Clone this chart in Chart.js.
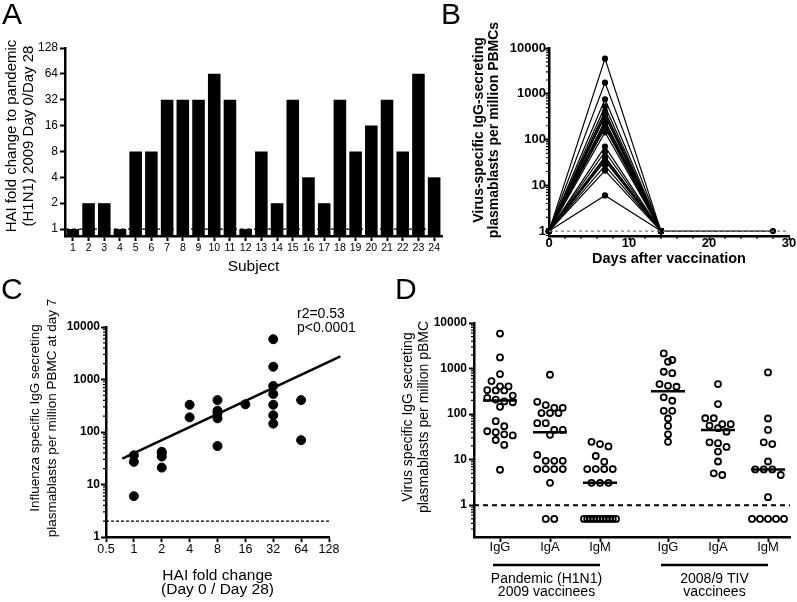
<!DOCTYPE html>
<html>
<head>
<meta charset="utf-8">
<script src="https://cdn.jsdelivr.net/npm/chart.js@4.4.0/dist/chart.umd.min.js"></script>
<style>
  html, body { margin: 0; padding: 0; background: #fff; overflow: hidden; }
  body { width: 797px; height: 602px; position: relative; font-family: "Liberation Sans", Arial, sans-serif; color: #000; }
  canvas { position: absolute; }
  .letter { position: absolute; font-size: 30px; line-height: 30px; }
  .note { position: absolute; font-size: 14px; line-height: 14px; white-space: nowrap; }
</style>
</head>
<body>
<canvas id="chartA" width="460" height="290" style="left:0;top:0"></canvas>
<canvas id="chartB" width="397" height="290" style="left:400px;top:0"></canvas>
<canvas id="chartC" width="400" height="312" style="left:0;top:290px"></canvas>
<canvas id="chartD" width="397" height="312" style="left:400px;top:290px"></canvas>
<div class="letter" style="left:2px;top:-1px">A</div>
<div class="letter" style="left:441px;top:-1px">B</div>
<div class="letter" style="left:1px;top:274px">C</div>
<div class="letter" style="left:395px;top:274px">D</div>
<div class="note" style="left:297px;top:306px">r2=0.53</div>
<div class="note" style="left:297px;top:320px">p&lt;0.0001</div>
<script>
// ---- data ----
const subjects = ['1','2','3','4','5','6','7','8','9','10','11','12','13','14','15','16','17','18','19','20','21','22','23','24'];
const haiFold = [1, 2, 2, 1, 8, 8, 32, 32, 32, 64, 32, 1, 8, 2, 32, 4, 2, 32, 8, 16, 32, 8, 64, 4];
// day 7 IgG ASC per million PBMC, same subject order
const day7Asc = [36, 42, 40, 27, 405, 255, 5850, 1750, 755, 405, 530, 6, 228, 34, 330, 330, 21, 208, 182, 337, 144, 54, 70, 190];
const days = [0, 7, 14, 28];
const baselineAsc = 1;

const haiTicks = [1, 2, 4, 8, 16, 32, 64, 128];
const dayTicks = [0, 10, 20, 30];
const decadeTicks = [1, 10, 100, 1000, 10000];
const foldTicks = [0.5, 1, 2, 4, 8, 16, 32, 64, 128];

const fitX = [0.75, 170];
const fitY = [31, 2750];

const isotypes = ['IgG', 'IgA', 'IgM'];
const groupNames = [['Pandemic (H1N1)', '2009 vaccinees'], ['2008/9 TIV', 'vaccinees']];
const igmPandemic = [24.6, 21.9, 19.5, 12, 9, 6.2, 6.2, 6.2, 6.2, 3.1, 3.1, 3.1, 0.5, 0.5, 0.5, 0.5, 0.5, 0.5, 0.5, 0.5, 0.5, 0.5, 0.5];
const igaPandemic = [730, 186, 158, 137, 137, 105, 105, 105, 63, 63, 45, 45, 35, 12.7, 9.4, 9.4, 9.4, 6.2, 6.2, 6.2, 6.2, 3.1, 0.5, 0.5];
const iggTiv = [2150, 1540, 1410, 850, 790, 457, 418, 398, 233, 196, 118, 118, 80, 55, 36, 24.6];
const igaTiv = [457, 166, 81, 81, 60, 60, 56, 49, 41, 24, 23, 19, 15, 9.1, 5.0, 4.6];
const igmTiv = [820, 80, 45, 24, 22, 9.1, 6.1, 6.1, 6.1, 4.6, 1.5, 0.5, 0.5, 0.5, 0.5, 0.5];
const dotGroups = [day7Asc, igaPandemic, igmPandemic, iggTiv, igaTiv, igmTiv];

// ---- helpers ----
const FONT = '"Liberation Sans", Arial, sans-serif';
Chart.defaults.font.family = FONT;
Chart.defaults.color = '#000';
Chart.defaults.animation = false;
Chart.defaults.plugins.legend.display = false;
Chart.defaults.plugins.tooltip.enabled = false;

const fixWidth = w => s => { s.width = w; };
const fixHeight = h => s => { s.height = h; };
const setTicks = vals => s => { s.ticks = vals.map(v => ({value: v})); };

function frame(len) {
  return {
    border: {color: '#000', width: 2.5},
    grid: {drawOnChartArea: false, drawTicks: true, tickLength: len, tickColor: '#000', tickWidth: 2, offset: false}
  };
}

function logMinors(min, max) {
  const out = [];
  for (let e = Math.floor(Math.log10(min)); e <= Math.ceil(Math.log10(max)); e++) {
    for (let m = 2; m <= 9; m++) {
      const v = m * Math.pow(10, e);
      if (v > min && v < max) out.push(v);
    }
  }
  return out;
}

function minorTicks(axis, values, len) {
  return {
    id: 'minor' + axis,
    afterDraw(chart) {
      const s = chart.scales[axis], a = chart.chartArea, ctx = chart.ctx;
      ctx.save();
      ctx.strokeStyle = '#000';
      ctx.lineWidth = 1.2;
      ctx.beginPath();
      values.forEach(v => {
        const p = s.getPixelForValue(v);
        if (s.isHorizontal()) { ctx.moveTo(p, a.bottom); ctx.lineTo(p, a.bottom + len); }
        else { ctx.moveTo(a.left - len, p); ctx.lineTo(a.left, p); }
      });
      ctx.stroke();
      ctx.restore();
    }
  };
}

function refLine(value, color, width, dash) {
  return {
    id: 'refLine',
    afterDatasetsDraw(chart) {
      const y = chart.scales.y.getPixelForValue(value), a = chart.chartArea, ctx = chart.ctx;
      ctx.save();
      ctx.strokeStyle = color;
      ctx.lineWidth = width;
      ctx.setLineDash(dash);
      ctx.beginPath();
      ctx.moveTo(a.left, y);
      ctx.lineTo(a.right, y);
      ctx.stroke();
      ctx.restore();
    }
  };
}

// rotated y-axis title, GraphPad puts it a little above the axis centre
function sideTitle(lines, font, cx, cy, gap) {
  return {
    id: 'sideTitle',
    afterDraw(chart) {
      const ctx = chart.ctx;
      ctx.save();
      ctx.translate(cx, cy);
      ctx.rotate(-Math.PI / 2);
      ctx.font = font;
      ctx.fillStyle = '#000';
      ctx.textAlign = 'center';
      ctx.textBaseline = 'middle';
      lines.forEach((t, i) => ctx.fillText(t, 0, i * gap));
      ctx.restore();
    }
  };
}

// ---- A: HAI fold change bars ----
new Chart(document.getElementById('chartA'), {
  type: 'bar',
  data: {
    labels: subjects,
    datasets: [{data: haiFold, backgroundColor: '#000', barPercentage: 0.8, categoryPercentage: 1}]
  },
  options: {
    responsive: false,
    layout: {padding: {left: 0, top: 48, right: 18, bottom: 0}},
    scales: {
      x: {
        ...frame(5),
        ticks: {font: {size: 10.5}, padding: 1, autoSkip: false, maxRotation: 0},
        title: {display: true, text: 'Subject', font: {size: 15.5}, padding: {top: 0, bottom: 14}},
        afterFit: fixHeight(54)
      },
      y: {
        type: 'logarithmic', min: 0.83, max: 128,
        ...frame(5),
        ticks: {font: {size: 12}, padding: 2, callback: v => v},
        afterBuildTicks: setTicks(haiTicks),
        afterFit: fixWidth(65)
      }
    }
  },
  plugins: [
    refLine(1, '#000', 1.2, [4, 3]),
    sideTitle(['HAI fold change to pandemic', '(H1N1) 2009 Day 0/Day 28'], '15px ' + FONT, 12, 136, 17)
  ]
});

// ---- B: kinetics ----
const kinetics = day7Asc.map(v => ({
  data: [{x: days[0], y: baselineAsc}, {x: days[1], y: v}, {x: days[2], y: baselineAsc}],
  showLine: true, borderColor: '#000', borderWidth: 1.2,
  pointRadius: 2.5, pointBackgroundColor: '#000', pointBorderColor: '#000', clip: false
}));
kinetics.push({
  data: [{x: days[2], y: baselineAsc}, {x: days[3], y: baselineAsc}],
  showLine: true, borderColor: '#000', borderWidth: 1.2,
  pointRadius: 2.5, pointBackgroundColor: '#000', pointBorderColor: '#000', clip: false
});

new Chart(document.getElementById('chartB'), {
  type: 'scatter',
  data: {datasets: kinetics},
  options: {
    responsive: false,
    layout: {padding: {left: 0, top: 48, right: 8, bottom: 0}},
    scales: {
      x: {
        type: 'linear', min: 0, max: 30,
        ...frame(4),
        ticks: {font: {size: 13, weight: 'bold'}, padding: -4},
        afterBuildTicks: setTicks(dayTicks),
        title: {display: true, text: 'Days after vaccination', font: {size: 14.5, weight: 'bold'}, padding: {top: 0, bottom: 22}},
        afterFit: fixHeight(54)
      },
      y: {
        type: 'logarithmic', min: 0.78, max: 10000,
        ...frame(4),
        ticks: {font: {size: 13, weight: 'bold'}, padding: -1, callback: v => v},
        afterBuildTicks: setTicks(decadeTicks),
        afterFit: fixWidth(149)
      }
    }
  },
  plugins: [
    refLine(1, '#777', 1.2, [3, 3]),
    minorTicks('y', logMinors(0.78, 10000), 3),
    minorTicks('x', [2, 4, 6, 8, 12, 14, 16, 18, 22, 24, 26, 28], 3),
    sideTitle(['Virus-specific IgG-secreting', 'plasmablasts per million PBMCs'], 'bold 14px ' + FONT, 79, 130, 15.5)
  ]
});

// ---- C: correlation ----
new Chart(document.getElementById('chartC'), {
  type: 'scatter',
  data: {
    datasets: [
      {
        data: fitX.map((x, i) => ({x, y: fitY[i]})),
        showLine: true, borderColor: '#000', borderWidth: 2.5, pointRadius: 0, clip: false
      },
      {
        data: haiFold.map((x, i) => ({x, y: day7Asc[i]})),
        pointRadius: 4.5, pointBackgroundColor: '#000', pointBorderColor: '#000'
      }
    ]
  },
  options: {
    responsive: false,
    layout: {padding: {left: 0, top: 37, right: 71, bottom: 0}},
    scales: {
      x: {
        type: 'logarithmic', min: 0.5, max: 128,
        ...frame(5),
        ticks: {font: {size: 12.5}, padding: 0, callback: v => v},
        afterBuildTicks: setTicks(foldTicks),
        title: {display: true, text: ['HAI fold change', '(Day 0 / Day 28)'],
                font: {size: 15.5, lineHeight: 0.9}, padding: {top: 0, bottom: 5}},
        afterFit: fixHeight(65)
      },
      y: {
        type: 'logarithmic', min: 1, max: 10000,
        ...frame(5),
        ticks: {font: {size: 12, weight: 'bold'}, padding: 1, callback: v => v},
        afterBuildTicks: setTicks(decadeTicks),
        afterFit: fixWidth(106)
      }
    }
  },
  plugins: [
    refLine(2, '#000', 1.2, [3, 2]),
    minorTicks('y', logMinors(1, 10000), 3),
    sideTitle(['Influenza specific IgG secreting', 'plasmablasts per million PBMC at day 7'], '13.5px ' + FONT, 35, 128, 17)
  ]
});

// ---- D: isotype dot plot ----
const groupGap = 0.36;
const catPos = dotGroups.map((g, i) => i + 1 + (i >= 3 ? groupGap : 0));

function swarm(values, center) {
  const sorted = values.slice().sort((a, b) => b - a);
  const rows = [];
  sorted.forEach(v => {
    const row = rows[rows.length - 1];
    if (row && Math.log10(row[0] / v) < 0.15) row.push(v);
    else rows.push([v]);
  });
  const pts = [];
  rows.forEach(row => {
    const n = row.length;
    const step = n > 1 ? Math.min(0.17, 0.64 / (n - 1)) : 0;
    row.forEach((v, i) => pts.push({x: center + (i - (n - 1) / 2) * step, y: v}));
  });
  return pts;
}

function median(values) {
  const s = values.slice().sort((a, b) => a - b);
  const m = Math.floor(s.length / 2);
  return s.length % 2 ? s[m] : (s[m - 1] + s[m]) / 2;
}

const medianSets = dotGroups.map((g, i) => ({
  data: [{x: catPos[i] - 0.34, y: median(g)}, {x: catPos[i] + 0.34, y: median(g)}],
  showLine: true, borderColor: '#000', borderWidth: 2.5, pointRadius: 0
}));
const dotSets = dotGroups.map((g, i) => ({
  data: swarm(g, catPos[i]),
  pointRadius: 3, pointBorderWidth: 1.8, pointBorderColor: '#000', pointBackgroundColor: 'rgba(0,0,0,0)'
}));

const groupLabels = {
  id: 'groupLabels',
  afterDraw(chart) {
    const xs = chart.scales.x, ctx = chart.ctx;
    const y = chart.chartArea.bottom + 28;
    ctx.save();
    ctx.strokeStyle = '#000';
    ctx.fillStyle = '#000';
    ctx.lineWidth = 2.5;
    ctx.font = '14px ' + FONT;
    ctx.textAlign = 'center';
    ctx.textBaseline = 'middle';
    groupNames.forEach((lines, g) => {
      const x0 = xs.getPixelForValue(catPos[g * 3]) - 7;
      const x1 = xs.getPixelForValue(catPos[g * 3 + 2]);
      ctx.beginPath();
      ctx.moveTo(x0, y);
      ctx.lineTo(x1, y);
      ctx.stroke();
      lines.forEach((t, i) => ctx.fillText(t, (x0 + x1) / 2, y + 14 + i * 13.5));
    });
    ctx.restore();
  }
};

new Chart(document.getElementById('chartD'), {
  type: 'scatter',
  data: {datasets: [...medianSets, ...dotSets]},
  options: {
    responsive: false,
    layout: {padding: {left: 0, top: 33, right: 7, bottom: 0}},
    scales: {
      x: {
        type: 'linear', min: 0.48, max: 6.8,
        ...frame(5),
        ticks: {font: {size: 13}, padding: -2, callback: (v, i) => isotypes[i % 3]},
        afterBuildTicks: setTicks(catPos),
        afterFit: fixHeight(65)
      },
      y: {
        type: 'logarithmic', min: 0.2, max: 10000,
        ...frame(5),
        ticks: {font: {size: 12, weight: 'bold'}, padding: 2, callback: v => v},
        afterBuildTicks: setTicks(decadeTicks),
        afterFit: fixWidth(74)
      }
    }
  },
  plugins: [
    refLine(1, '#000', 2, [5, 4]),
    minorTicks('y', logMinors(0.2, 10000), 3),
    groupLabels,
    sideTitle(['Virus specific IgG secreting', 'plasmablasts per million pBMC'], '14px ' + FONT, 8, 127, 16)
  ]
});
</script>
</body>
</html>
